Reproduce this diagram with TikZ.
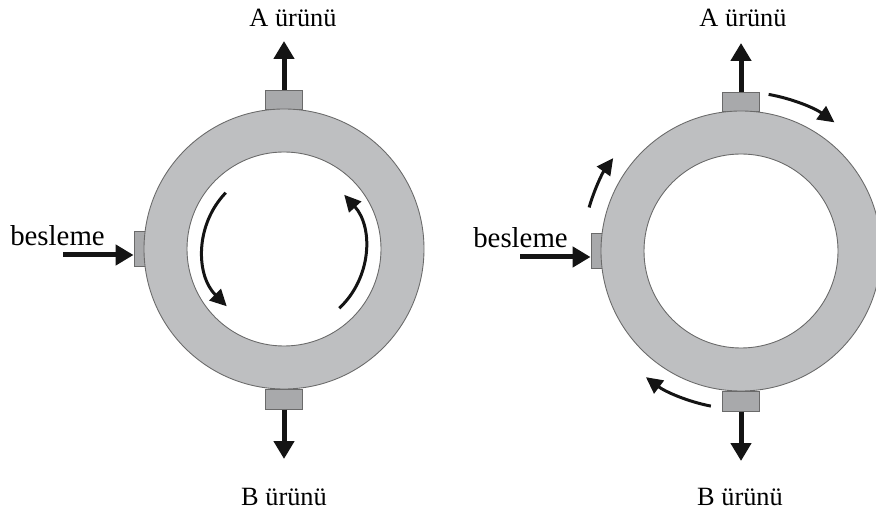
\documentclass[tikz,border=0pt]{standalone}
\usepackage{fontspec}
\setmainfont{Liberation Serif}
\usetikzlibrary{arrows.meta}
\definecolor{ringgray}{HTML}{BEBFC1}
\definecolor{portgray}{HTML}{A8A9AB}
\definecolor{edgegray}{HTML}{6A6A6A}
\definecolor{flowblack}{HTML}{141414}

\tikzset{
  ring/.style={draw=edgegray, line width=0.5pt, fill=ringgray, even odd rule},
  port/.style={draw=edgegray, line width=0.5pt, fill=portgray, inner sep=0pt},
  flow/.style={flowblack, line width=1mm, -{Triangle[length=3.6mm, width=4mm]}},
  swirl/.style={flowblack, line width=0.6mm, -{Triangle[length=3.3mm, width=3.2mm]}},
  lbl/.style={inner sep=0pt, anchor=base, font=\fontsize{15}{17}\selectfont},
  feedlbl/.style={inner sep=0pt, anchor=base, font=\fontsize{16.4}{19}\selectfont},
}

\begin{document}
\begin{tikzpicture}[x=0.2mm, y=0.2mm]
  \clip (0,0) rectangle (876,513);

  \foreach \n/\x/\y/\ax/\bx/\fx in {l/284/264/293/284/57.5, r/741/262/743/740/520.5} {
    \coordinate (c\n) at (\x,\y);

    % ports sit under the ring
    \node[port, minimum width=7.4mm, minimum height=3.8mm] (top\n) at (\x,\y+149.5) {};
    \node[port, minimum width=7.4mm, minimum height=3.9mm] (bot\n) at (\x,\y-150.5) {};
    \node[port, minimum width=2.2mm, minimum height=7mm] (side\n) at (\x-144.5,\y) {};

    % ring
    \draw[ring] (c\n) circle[radius=140] (c\n) circle[radius=97];

    % products and feed
    \coordinate (atip\n) at (\x,\y+208);
    \coordinate (btip\n) at (\x,\y-210);
    \coordinate (feed\n) at (\x-221,\y-6);
    \draw[flow] (top\n.north) -- (atip\n);
    \draw[flow] (bot\n.south) -- (btip\n);
    \draw[flow] (feed\n) -- (side\n.west |- feed\n);

    \node[lbl] (a\n) at (\ax,486) {A ürünü};
    \node[lbl] (b\n) at (\bx,8) {B ürünü};
    \node[feedlbl] (f\n) at (\fx,\y+3) {besleme};
  }

  % swirl inside the left ring
  \draw[swirl] (cl) ++(136:81) arc[start angle=136, end angle=225, radius=81];
  \draw[swirl] (cl) ++(-47:81) arc[start angle=-47, end angle=42, radius=81];

  % flow round the outside of the right ring
  \draw[swirl] (cr) ++(80:159) arc[start angle=80, end angle=54, radius=159];
  \draw[swirl] (cr) ++(164:158) arc[start angle=164, end angle=144, radius=158];
  \draw[swirl] (cr) ++(259:158) arc[start angle=259, end angle=233, radius=158];
\end{tikzpicture}
\end{document}
